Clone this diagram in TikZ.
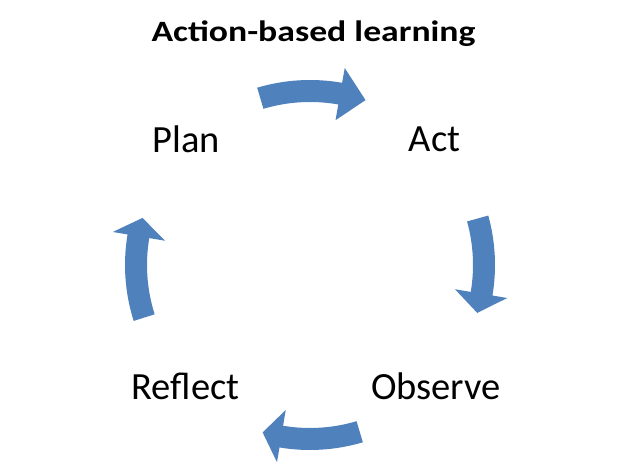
\documentclass[tikz,border=0pt]{standalone}
\usepackage{fontspec}
\setmainfont{Carlito}
\tikzset{
  lbl/.style={anchor=base, inner sep=0pt, font=\fontsize{38.5}{40}\selectfont},
  ttl/.style={anchor=base, inner sep=0pt, xscale=1.21, transform shape, font=\bfseries\fontsize{29.5}{31}\selectfont},
  cyc/.style={fill={rgb,255:red,79;green,129;blue,189}, draw=none}
}
% #1 tail angle, #2 head base angle, #3 tip angle
\newcommand\cyclearrow[3]{%
  \fill[cyc] (#1:185) arc[start angle=#1, end angle=#2, radius=185]
    -- (#2:200) -- (#3:174) -- (#2:147) -- (#2:163)
    arc[start angle=#2, end angle=#1, radius=163] -- cycle;}
\begin{document}
\begin{tikzpicture}[x=1pt,y=1pt]
\useasboundingbox (0,0) rectangle (620,473);
\node[ttl] (title) at (313.5,431) {Action-based learning};
\node[lbl] (plan) at (186.5,320) {Plan};
\node[lbl] (act) at (434.5,321) {Act};
\node[lbl] (reflect) at (185.5,73) {Reflect};
\node[lbl] (observe) at (436,73) {Observe};
\begin{scope}[shift={(310,208)}]
  \cyclearrow{106.6}{80}{71.4}
  \cyclearrow{15.5}{-9.5}{-16}
  \cyclearrow{-73.4}{-99.5}{-105.8}
  \cyclearrow{197.6}{170.5}{164.3}
\end{scope}
\end{tikzpicture}
\end{document}
